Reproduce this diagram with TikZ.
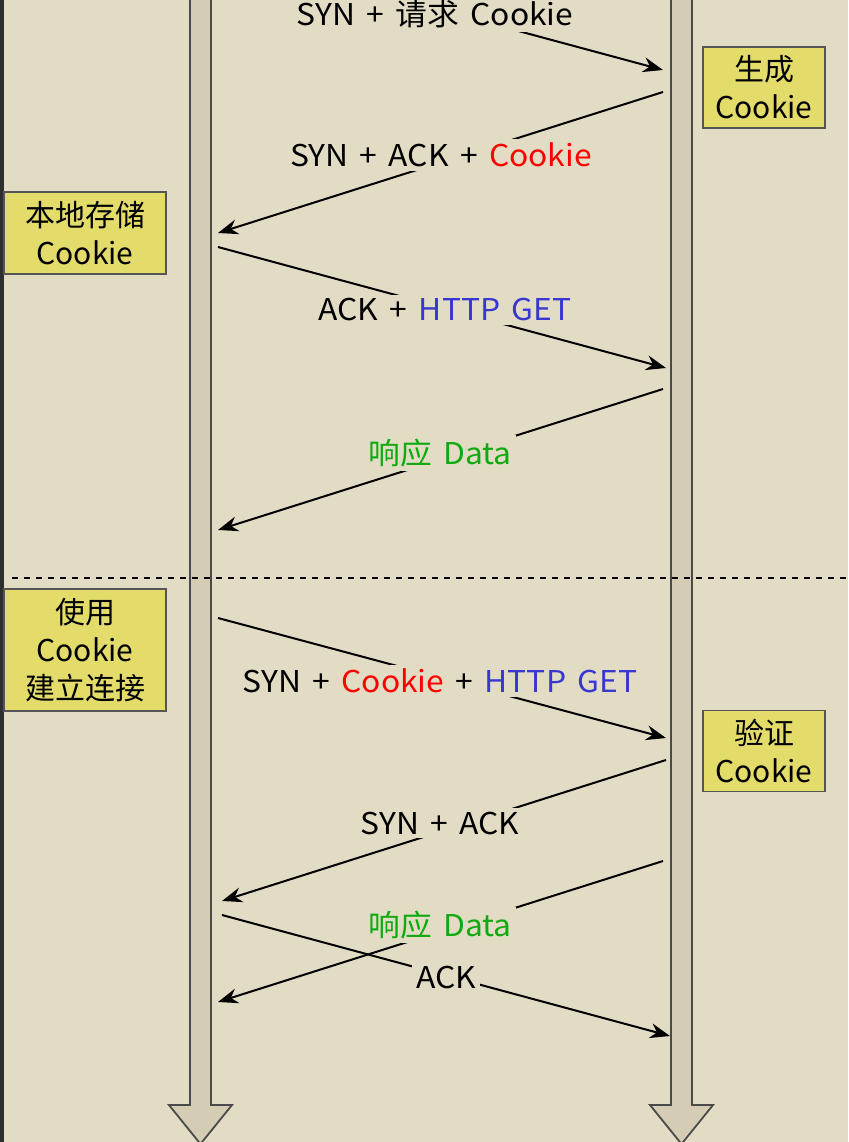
\documentclass[tikz,border=0pt]{standalone}
\usepackage{fontspec}
\setmainfont{Noto Sans CJK SC}
\newfontfamily\lblfont{Noto Sans CJK SC}[FakeStretch=1.06, WordSpace=1.6]
\usetikzlibrary{arrows.meta}
\definecolor{bg}{HTML}{E3DCC5}
\definecolor{lifefill}{HTML}{D4CDB4}
\definecolor{lifeline}{HTML}{4A4A4A}
\definecolor{boxfill}{HTML}{E4DC6A}
\definecolor{boxline}{HTML}{555555}
\definecolor{strip}{HTML}{2E2E2E}
\definecolor{cred}{HTML}{FF0000}
\definecolor{cblue}{HTML}{3838D0}
\definecolor{cgreen}{HTML}{10AA10}
\tikzset{
  life/.style={fill=lifefill, draw=lifeline, line width=1.8pt, line join=miter},
  msg/.style={draw=black, line width=2pt, -{Stealth[length=20pt,width=15pt]}},
  lbl/.style={fill=bg, inner sep=4pt, font=\lblfont\fontsize{30}{36}\selectfont},
  note/.style={fill=boxfill, draw=boxline, line width=1.8pt, align=center, inner sep=0pt,
    font=\fontsize{30}{38}\selectfont},
  sep/.style={draw=black, line width=1.4pt, dash pattern=on 6pt off 6pt}
}
\begin{document}
\begin{tikzpicture}[x=1pt,y=-1pt]
\useasboundingbox (0,0) rectangle (848,1142);
\clip (0,0) rectangle (848,1142);
\fill[bg] (0,0) rectangle (848,1142);
\fill[strip] (0,0) rectangle (4,1142);
% lifelines
\draw[life] (190,-10) -- (190,1105) -- (169,1105) -- (200.5,1144) -- (232,1105) -- (211,1105) -- (211,-10) -- cycle;
\draw[life] (671,-10) -- (671,1105) -- (650,1105) -- (681.5,1144) -- (713,1105) -- (692,1105) -- (692,-10) -- cycle;
% separator
\coordinate (sepL) at (12,578);
\coordinate (sepR) at (848,578);
\draw[sep] (sepL) -- (sepR);
% endpoints
\coordinate (a1) at (218,-50);  \coordinate (b1) at (663,70);
\coordinate (a2) at (663,92);   \coordinate (b2) at (218,233);
\coordinate (a3) at (218,247);  \coordinate (b3) at (666,368);
\coordinate (a4) at (663,389);  \coordinate (b4) at (218,530);
\coordinate (a5) at (218,618);  \coordinate (b5) at (666,738);
\coordinate (a6) at (666,760);  \coordinate (b6) at (222,901);
\coordinate (a7) at (663,861);  \coordinate (b7) at (218,1002);
\coordinate (a8) at (222,915);  \coordinate (b8) at (670,1036);
\draw[msg] (a1) -- (b1);
\draw[msg] (a2) -- (b2);
\draw[msg] (a3) -- (b3);
\draw[msg] (a4) -- (b4);
\draw[msg] (a5) -- (b5);
\draw[msg] (a6) -- (b6);
\draw[msg] (a7) -- (b7);
\draw[msg] (a8) -- (b8);
% labels
\node[lbl] (l1) at (435,14) {SYN + 请求 Cookie};
\node[lbl] (l2) at (441,155) {SYN + ACK + \textcolor{cred}{Cookie}};
\node[lbl] (l3) at (445,310) {ACK + \textcolor{cblue}{HTTP GET}};
\node[lbl] (l4) at (440,453) {\textcolor{cgreen}{响应 Data}};
\node[lbl] (l5) at (440,681) {SYN + \textcolor{cred}{Cookie} + \textcolor{cblue}{HTTP GET}};
\node[lbl] (l6) at (440,823) {SYN + ACK};
\node[lbl] (l7) at (440,925) {\textcolor{cgreen}{响应 Data}};
\node[lbl] (l8) at (446,977) {ACK};
% notes
\node[note, minimum width=122pt, minimum height=81pt] (n1) at (764,87.5) {生成\\Cookie};
\node[note, minimum width=162pt, minimum height=82pt] (n2) at (85,233) {本地存储\\Cookie};
\node[note, minimum width=162pt, minimum height=122pt] (n3) at (85,650) {使用\\Cookie\\建立连接};
\node[note, minimum width=122pt, minimum height=81pt] (n4) at (764,751) {验证\\Cookie};
\end{tikzpicture}
\end{document}
